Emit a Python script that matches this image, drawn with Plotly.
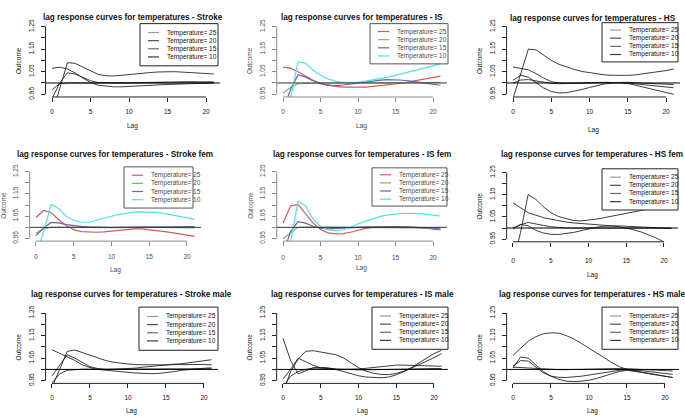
import plotly.graph_objects as go

W, H = 685, 419
FONT = "Liberation Sans, Arial, sans-serif"

LAGS = list(range(22))
TEMPS = [25, 20, 15, 10]
X_TICKS = [0, 5, 10, 15, 20]
Y_TICKS = [0.95, 1.00, 1.05, 1.10, 1.15, 1.20, 1.25]
Y_TICKTEXT = ["0.95", "", "1.05", "", "1.15", "", "1.25"]
TITLES = ["Stroke", "IS", "HS", "Stroke fem", "IS fem", "HS fem",
          "Stroke male", "IS male", "HS male"]

# ---- values (lags 0..21) ----
stroke_25 = [1.065, 1.07, 1.062, 1.045, 1.022, 1.002, 0.99, 0.985, 0.983, 0.983, 0.984, 0.986, 0.988, 0.99, 0.992, 0.994, 0.995, 0.996, 0.997, 0.998, 0.999, 1.0]
stroke_20 = [0.97, 0.997, 1.0, 1.001, 1.001, 1.0, 1.0, 1.0, 1.0, 1.0, 1.0, 1.0, 1.001, 1.001, 1.001, 1.001, 1.001, 1.001, 1.001, 1.001, 1.001, 1.001]
stroke_15 = [0.93, 1.0, 1.045, 1.04, 1.025, 1.01, 1.002, 1.0, 1.0, 1.0, 1.001, 1.002, 1.003, 1.004, 1.005, 1.006, 1.006, 1.006, 1.006, 1.005, 1.005, 1.005]
stroke_10 = [0.86, 0.98, 1.09, 1.087, 1.07, 1.052, 1.038, 1.032, 1.031, 1.034, 1.038, 1.042, 1.045, 1.047, 1.049, 1.05, 1.05, 1.048, 1.046, 1.044, 1.042, 1.04]

is_25 = [1.07, 1.066, 1.05, 1.03, 1.012, 0.998, 0.99, 0.985, 0.982, 0.981, 0.981, 0.982, 0.985, 0.988, 0.992, 0.996, 1.0, 1.006, 1.012, 1.018, 1.024, 1.03]
is_20 = [0.955, 0.98, 0.997, 1.0, 1.0, 1.0, 1.0, 1.0, 0.999, 0.999, 0.999, 1.0, 1.0, 1.0, 1.0, 1.0, 1.0, 1.001, 1.002, 1.002, 1.003, 1.003]
is_15 = [0.88, 0.97, 1.037, 1.026, 1.01, 0.997, 0.989, 0.988, 0.991, 0.996, 1.001, 1.006, 1.01, 1.013, 1.015, 1.014, 1.012, 1.008, 1.003, 0.998, 0.994, 0.99]
is_10 = [0.80, 0.93, 1.093, 1.088, 1.056, 1.034, 1.018, 1.008, 1.003, 1.002, 1.004, 1.008, 1.013, 1.019, 1.026, 1.034, 1.042, 1.05, 1.058, 1.066, 1.075, 1.085]

hs_25 = [1.071, 1.066, 1.058, 1.042, 1.022, 1.006, 1.0, 0.999, 0.999, 1.0, 1.001, 1.002, 1.003, 1.003, 1.003, 1.0, 0.996, 0.992, 0.988, 0.985, 0.982, 0.979]
hs_20 = [1.0, 1.013, 1.015, 1.009, 1.002, 0.998, 0.997, 0.998, 0.999, 1.0, 1.001, 1.002, 1.003, 1.004, 1.004, 1.003, 1.001, 0.999, 0.997, 0.995, 0.994, 0.993]
hs_15 = [1.012, 1.034, 1.026, 1.0, 0.978, 0.962, 0.956, 0.957, 0.963, 0.971, 0.98, 0.989, 0.996, 1.0, 1.001, 0.998, 0.99, 0.982, 0.974, 0.966, 0.958, 0.95]
hs_10 = [0.93, 1.04, 1.15, 1.147, 1.125, 1.1, 1.083, 1.07, 1.06, 1.051, 1.045, 1.04, 1.036, 1.034, 1.033, 1.034, 1.036, 1.04, 1.044, 1.049, 1.055, 1.062]

strokef_25 = [1.044, 1.076, 1.066, 1.034, 1.008, 0.99, 0.981, 0.978, 0.978, 0.98, 0.984, 0.988, 0.991, 0.993, 0.993, 0.99, 0.986, 0.981, 0.976, 0.971, 0.965, 0.959]
strokef_20 = [0.974, 0.993, 1.0, 1.001, 1.001, 1.0, 1.0, 0.999, 0.999, 0.999, 0.999, 0.999, 1.0, 1.0, 1.0, 1.0, 1.0, 0.999, 0.999, 0.998, 0.998, 0.997]
strokef_15 = [0.963, 0.997, 1.022, 1.02, 1.012, 1.007, 1.004, 1.002, 1.0, 1.0, 1.0, 1.0, 1.0, 1.0, 1.0, 1.001, 1.001, 1.002, 1.002, 1.003, 1.003, 1.003]
strokef_10 = [0.88, 0.98, 1.103, 1.084, 1.05, 1.032, 1.023, 1.023, 1.032, 1.042, 1.05, 1.058, 1.064, 1.068, 1.07, 1.07, 1.067, 1.062, 1.056, 1.05, 1.044, 1.037]

isf_25 = [1.018, 1.096, 1.103, 1.06, 1.02, 0.99, 0.975, 0.971, 0.972, 0.978, 0.987, 0.995, 1.0, 1.002, 1.003, 1.003, 1.003, 1.002, 1.0, 0.996, 0.992, 0.988]
isf_20 = [0.949, 0.975, 1.0, 1.001, 1.001, 1.0, 1.0, 1.0, 1.0, 1.0, 1.0, 1.0, 1.0, 1.0, 1.0, 1.0, 0.999, 0.999, 0.998, 0.997, 0.996, 0.995]
isf_15 = [0.88, 0.98, 1.026, 1.019, 1.005, 0.996, 0.993, 0.994, 0.996, 0.998, 1.0, 1.002, 1.003, 1.004, 1.004, 1.003, 1.002, 1.0, 0.998, 0.996, 0.994, 0.993]
isf_10 = [0.78, 0.93, 1.118, 1.096, 1.037, 1.004, 0.988, 0.985, 0.988, 1.0, 1.015, 1.028, 1.04, 1.049, 1.056, 1.061, 1.063, 1.063, 1.062, 1.059, 1.055, 1.051]

hsf_25 = [1.113, 1.09, 1.069, 1.058, 1.047, 1.04, 1.033, 1.027, 1.023, 1.021, 1.019, 1.016, 1.013, 1.01, 1.006, 1.0, 0.992, 0.982, 0.97, 0.955, 0.937, 0.92]
hsf_20 = [0.996, 1.015, 1.025, 1.02, 1.012, 1.006, 1.002, 1.0, 1.0, 1.0, 1.001, 1.002, 1.003, 1.003, 1.003, 1.002, 1.002, 1.001, 1.001, 1.0, 1.0, 1.0]
hsf_15 = [1.0, 1.016, 1.01, 0.99, 0.978, 0.972, 0.971, 0.974, 0.98, 0.988, 0.996, 1.003, 1.008, 1.01, 1.01, 1.008, 1.006, 1.004, 1.002, 1.0, 0.999, 0.998]
hsf_10 = [0.84, 0.98, 1.15, 1.13, 1.096, 1.07, 1.052, 1.042, 1.034, 1.032, 1.035, 1.04, 1.046, 1.053, 1.06, 1.067, 1.074, 1.081, 1.087, 1.093, 1.099, 1.104]

strokem_25 = [1.087, 1.072, 1.058, 1.04, 1.02, 1.008, 1.0, 0.996, 0.993, 0.99, 0.987, 0.984, 0.982, 0.981, 0.982, 0.985, 0.99, 0.996, 1.0, 1.003, 1.005, 1.007]
strokem_20 = [0.94, 0.98, 0.996, 1.0, 1.001, 1.001, 1.001, 1.0, 1.0, 1.0, 1.0, 1.001, 1.001, 1.001, 1.002, 1.002, 1.002, 1.003, 1.003, 1.003, 1.003, 1.003]
strokem_15 = [0.971, 1.02, 1.065, 1.05, 1.03, 1.012, 1.004, 1.0, 1.0, 1.001, 1.003, 1.006, 1.01, 1.014, 1.018, 1.021, 1.023, 1.025, 1.029, 1.034, 1.039, 1.043]
strokem_10 = [0.92, 1.0, 1.08, 1.086, 1.075, 1.062, 1.05, 1.04, 1.032, 1.027, 1.024, 1.021, 1.02, 1.019, 1.019, 1.02, 1.021, 1.022, 1.023, 1.023, 1.022, 1.02]

ism_25 = [1.138, 1.04, 0.98, 0.995, 1.007, 1.009, 1.007, 1.0, 0.99, 0.98, 0.972, 0.966, 0.963, 0.963, 0.966, 0.976, 0.99, 1.005, 1.02, 1.036, 1.052, 1.07]
ism_20 = [0.92, 0.97, 0.99, 1.0, 1.006, 1.006, 1.004, 1.002, 1.0, 0.999, 0.998, 0.998, 0.999, 1.0, 1.001, 1.002, 1.003, 1.004, 1.004, 1.004, 1.004, 1.004]
ism_15 = [0.957, 1.0, 1.05, 1.035, 1.018, 1.007, 1.002, 1.0, 1.0, 1.0, 1.002, 1.005, 1.009, 1.014, 1.018, 1.019, 1.019, 1.018, 1.017, 1.015, 1.014, 1.014]
ism_10 = [0.9, 0.99, 1.045, 1.08, 1.083, 1.078, 1.073, 1.065, 1.051, 1.03, 1.008, 0.992, 0.983, 0.978, 0.977, 0.982, 0.992, 1.008, 1.028, 1.05, 1.07, 1.085]

hsm_25 = [1.007, 1.055, 1.05, 1.02, 0.99, 0.97, 0.956, 0.948, 0.946, 0.948, 0.952, 0.96, 0.97, 0.981, 0.991, 0.996, 0.992, 0.986, 0.98, 0.974, 0.969, 0.964]
hsm_20 = [1.01, 1.008, 1.005, 1.002, 1.0, 0.999, 0.999, 0.999, 1.0, 1.001, 1.002, 1.003, 1.004, 1.004, 1.004, 1.003, 1.001, 0.999, 0.997, 0.995, 0.994, 0.993]
hsm_15 = [1.014, 1.039, 1.037, 1.01, 0.985, 0.97, 0.965, 0.964, 0.966, 0.97, 0.975, 0.981, 0.987, 0.992, 0.996, 0.998, 0.997, 0.994, 0.99, 0.986, 0.982, 0.978]
hsm_10 = [1.062, 1.095, 1.125, 1.145, 1.158, 1.162, 1.161, 1.15, 1.135, 1.115, 1.095, 1.075, 1.052, 1.03, 1.012, 1.0, 0.993, 0.987, 0.982, 0.976, 0.97, 0.964]

SERIES = [
    [stroke_25, stroke_20, stroke_15, stroke_10],
    [is_25, is_20, is_15, is_10],
    [hs_25, hs_20, hs_15, hs_10],
    [strokef_25, strokef_20, strokef_15, strokef_10],
    [isf_25, isf_20, isf_15, isf_10],
    [hsf_25, hsf_20, hsf_15, hsf_10],
    [strokem_25, strokem_20, strokem_15, strokem_10],
    [ism_25, ism_20, ism_15, ism_10],
    [hsm_25, hsm_20, hsm_15, hsm_10],
]
COLORED = [False, True, False, True, True, False, False, False, False]

# ---- layout (pixels): lag0 x, lag20 x, y of 0.95, y of 1.25, legend box,
#      title y, "Lag" y, tick-label standoff ----
GEOM = [
    dict(x0=52, x20=206, y095=91, y125=22, leg=(140, 19, 218, 62), ty=13, ly=123, so=4),
    dict(x0=283, x20=433, y095=91, y125=22, leg=(370, 19, 448, 60), ty=13, ly=123, so=4),
    dict(x0=513, x20=666, y095=91, y125=22, leg=(602, 18, 678, 58), ty=14, ly=127, so=4),
    dict(x0=36, x20=187, y095=238, y125=170, leg=(124, 165, 193, 207), ty=152, ly=270, so=5),
    dict(x0=283, x20=433, y095=238, y125=170, leg=(372, 166, 447, 205), ty=152.5, ly=268, so=6),
    dict(x0=513, x20=664, y095=238.7, y125=170.7, leg=(602, 167, 678, 209), ty=152.5, ly=275, so=8),
    dict(x0=52, x20=204, y095=383, y125=314, leg=(139, 308, 218, 352), ty=295, ly=414, so=4),
    dict(x0=283, x20=434, y095=383, y125=314, leg=(372, 308, 448, 351), ty=295, ly=414, so=4),
    dict(x0=513, x20=665, y095=383, y125=314, leg=(602, 308, 678, 351), ty=295, ly=414, so=4),
]
XR = [-0.84, 21.84]
YR = [0.938, 1.262]
COLORS_C = ["#d65a5c", "#62c462", "#6c62b0", "#52e2e2"]
COLORS_BW = ["#1a1a1a", "#1a1a1a", "#1a1a1a", "#1a1a1a"]
LEG_BW = ["#9a9a9a", "#505050", "#6a6a6a", "#3a3a3a"]

fig = go.Figure()
shapes, annots = [], []


def px(x):
    return x / W


def py(y):
    return 1 - y / H


for i in range(9):
    g = GEOM[i]
    n = "" if i == 0 else str(i + 1)
    sx = (g["x20"] - g["x0"]) / 20.0
    sy = (g["y095"] - g["y125"]) / 0.30
    left = g["x0"] + XR[0] * sx
    right = g["x0"] + XR[1] * sx
    top = g["y125"] - (YR[1] - 1.25) * sy
    bottom = g["y095"] + (0.95 - YR[0]) * sy
    colored = COLORED[i]
    txtc = "#4a4a4a" if colored else "#111111"
    axc = "#8a8a8a" if colored else "#222222"
    cols = COLORS_C if colored else COLORS_BW
    lw = 1.2 if colored else 0.85

    for k, t in enumerate(TEMPS):
        fig.add_trace(go.Scatter(
            x=LAGS, y=SERIES[i][k], mode="lines",
            line=dict(color=cols[k], width=lw),
            xaxis="x" + n, yaxis="y" + n, showlegend=False,
            name="Temperature= %d" % t))

    fig.layout["xaxis" + n] = dict(
        domain=[px(left), px(right)], range=XR, anchor="y" + n,
        tickvals=X_TICKS, ticks="outside", ticklen=4, tickwidth=1,
        tickcolor=axc, showline=False, showgrid=False, zeroline=False,
        tickfont=dict(size=6.5, color=txtc, family=FONT),
        ticklabelstandoff=g["so"])
    fig.layout["yaxis" + n] = dict(
        domain=[py(bottom), py(top)], range=YR, anchor="x" + n,
        tickvals=Y_TICKS, ticktext=Y_TICKTEXT, tickangle=-90,
        ticks="outside", ticklen=4, tickwidth=1, tickcolor=axc,
        showline=False, showgrid=False, zeroline=False,
        tickfont=dict(size=6.5, color=txtc, family=FONT),
        ticklabelstandoff=4)

    # reference line at 1 and R-style axis lines
    shapes.append(dict(type="line", xref="x%s domain" % n, yref="y" + n,
                       x0=0, x1=1, y0=1, y1=1,
                       line=dict(color="#333333" if colored else "#000000", width=1)))
    shapes.append(dict(type="line", xref="x" + n, yref="y%s domain" % n,
                       x0=X_TICKS[0], x1=X_TICKS[-1], y0=0, y1=0,
                       line=dict(color=axc, width=1)))
    shapes.append(dict(type="line", xref="x%s domain" % n, yref="y" + n,
                       x0=0, x1=0, y0=Y_TICKS[0], y1=Y_TICKS[-1],
                       line=dict(color=axc, width=1)))

    cx = (left + right) / 2
    annots.append(dict(text="<b>lag response curves for temperatures - %s</b>" % TITLES[i],
                       x=px(cx), y=py(g["ty"]), xref="paper", yref="paper",
                       showarrow=False, xanchor="center", yanchor="middle",
                       font=dict(size=8.2, color="#111111", family=FONT)))
    annots.append(dict(text="Lag", x=px(cx), y=py(g["ly"]), xref="paper",
                       yref="paper", showarrow=False, xanchor="center",
                       yanchor="middle", font=dict(size=6.5, color=txtc, family=FONT)))
    annots.append(dict(text="Outcome", x=px(left - 27), y=py((top + bottom) / 2),
                       xref="paper", yref="paper", showarrow=False,
                       textangle=-90, xanchor="center", yanchor="middle",
                       font=dict(size=6.5, color=txtc, family=FONT)))

    # legend box
    L, T, R, B = g["leg"]
    shapes.append(dict(type="rect", xref="paper", yref="paper",
                       x0=px(L), x1=px(R), y0=py(B), y1=py(T),
                       line=dict(color="#555555" if colored else "#222222", width=1),
                       fillcolor="white"))
    mid = (T + B) / 2.0
    for k, t in enumerate(TEMPS):
        yy = mid + (k - 1.5) * 8.3
        shapes.append(dict(type="line", xref="paper", yref="paper",
                           x0=px(L + 8), x1=px(L + 19), y0=py(yy), y1=py(yy),
                           line=dict(color=(COLORS_C[k] if colored else LEG_BW[k]),
                                     width=1.2)))
        annots.append(dict(text="Temperature= %d" % t, x=px(L + 25), y=py(yy),
                           xref="paper", yref="paper", showarrow=False,
                           xanchor="left", yanchor="middle",
                           font=dict(size=6.5, color=txtc, family=FONT)))

fig.update_layout(width=W, height=H, margin=dict(l=0, r=0, t=0, b=0),
                  paper_bgcolor="white", plot_bgcolor="white",
                  shapes=shapes, annotations=annots, showlegend=False)
fig.write_html(
    "out.html", config={"displayModeBar": False},
    post_script=("document.body.style.margin='0';"
                 "document.body.style.overflow='hidden';"
                 "var d=document.querySelector('.plotly-graph-div');"
                 "d.style.position='absolute';d.style.left='0px';d.style.top='0px';"))
